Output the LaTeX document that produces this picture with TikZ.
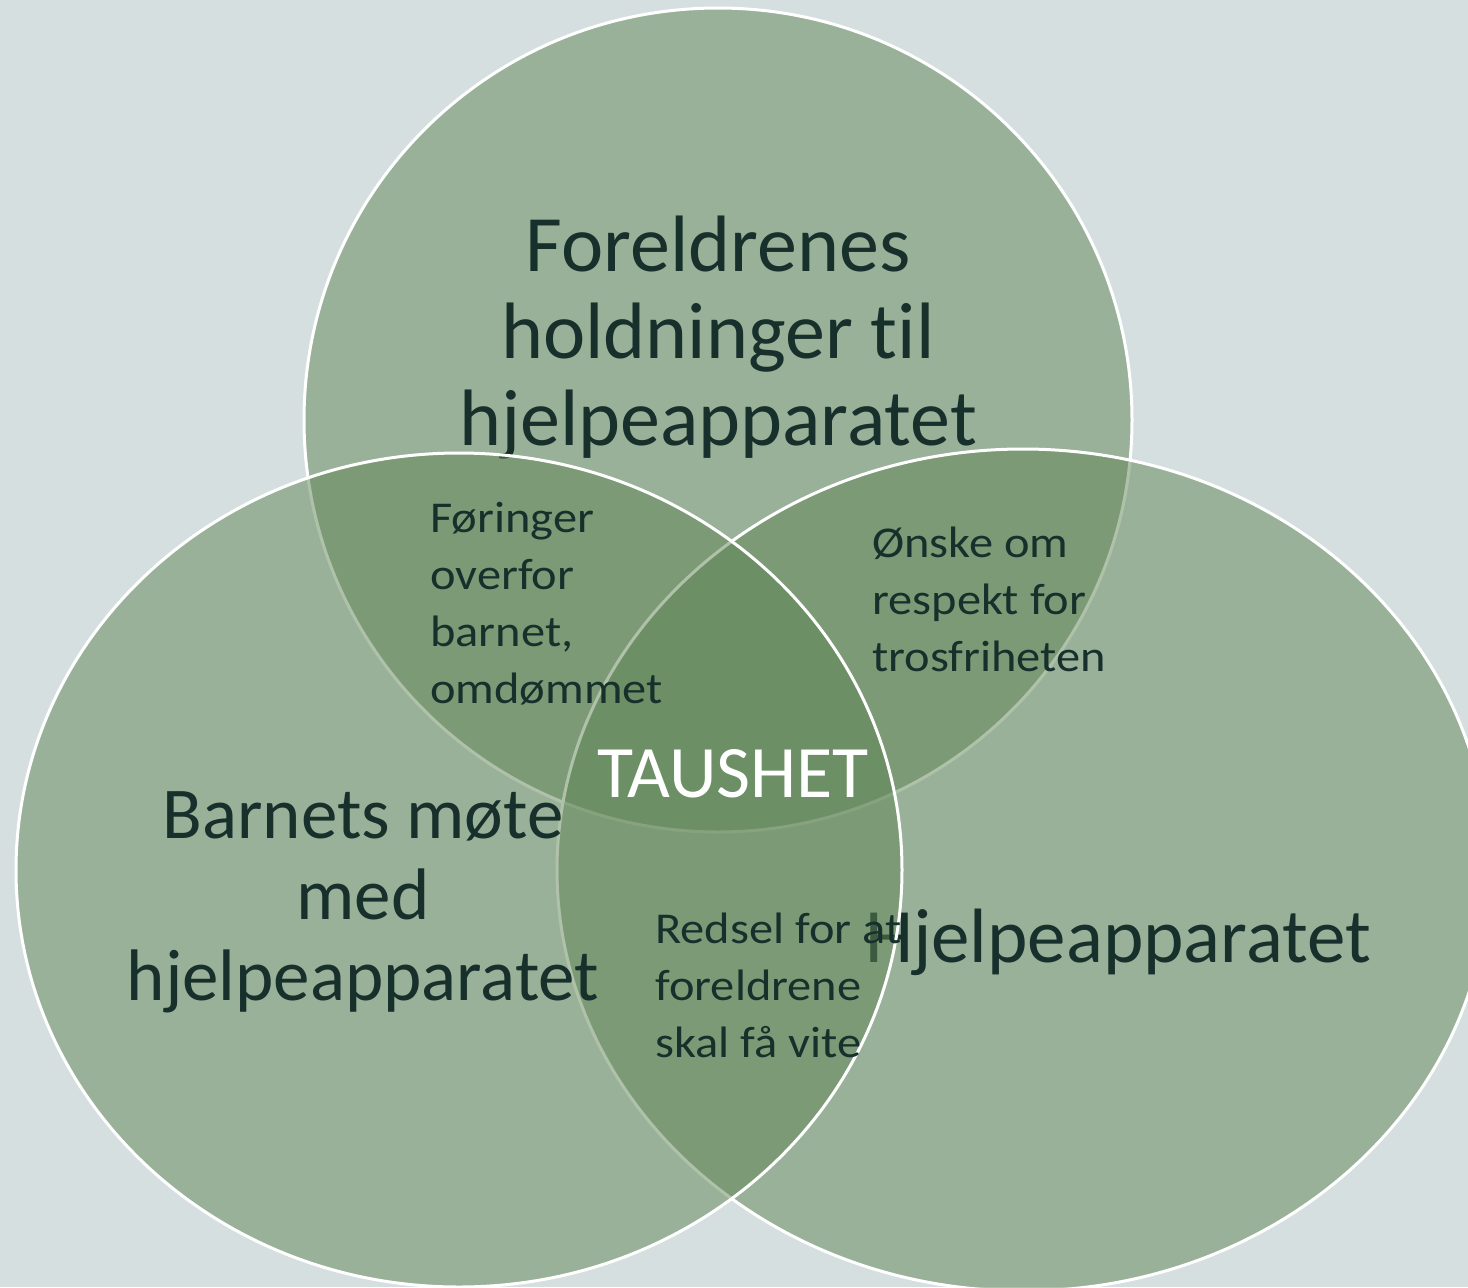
\documentclass[tikz,border=0pt]{standalone}
\usepackage{fontspec}
\setmainfont{Carlito}[Ligatures={NoCommon}]
\newfontfamily\smallfont[FakeStretch=1.1,Ligatures={NoCommon}]{Carlito}
\usetikzlibrary{positioning}

\definecolor{bgcol}{HTML}{D6DFDF}
\definecolor{venncol}{HTML}{608555}
\definecolor{textcol}{HTML}{17302B}

\tikzset{
	venn/.style={fill=venncol, fill opacity=0.5, draw=white, line width=1.5pt},
	bigtext/.style={text=textcol, align=center, inner sep=0pt, anchor=base},
	smalltext/.style={text=textcol, align=left, inner sep=0pt, anchor=base west,
		font=\smallfont\fontsize{22}{28.5}\selectfont},
}

\begin{document}
\begin{tikzpicture}[x=0.5pt, y=-0.5pt]
	%background
	\fill[bgcol] (0,0) rectangle (1468,1287);
	\useasboundingbox (0,0) rectangle (1468,1287);
	
	%top circle (base = last line)
	\draw[venn] (718,420) ellipse [x radius=207pt, y radius=206pt];
	\node[bigtext, font=\fontsize{40}{43.5}\selectfont] (parents) at (718,445)
		{Foreldrenes\\holdninger til\\hjelpeapparatet};
	
	%right circle
	\draw[venn] (1023,870) ellipse [x radius=233pt, y radius=210.5pt];
	\node[bigtext, font=\fontsize{38.5}{42}\selectfont] (services) at (1118,962) {Hjelpeapparatet};
	
	%left circle
	\draw[venn] (459,870) ellipse [x radius=221.5pt, y radius=208.5pt];
	\node[bigtext, font=\fontsize{36.5}{40.5}\selectfont] (child) at (363,1000)
		{Barnets møte\\med\\hjelpeapparatet};
	
	%overlaps
	\node[smalltext] (guidance) at (430,703) {Føringer\\overfor\\barnet,\\omdømmet};
	\node[smalltext] (respect) at (872,671) {Ønske om\\respekt for\\trosfriheten};
	\node[smalltext] (fear) at (655,1057) {Redsel for at\\foreldrene\\skal få vite};
	
	%centre
	\node[bigtext, text=white, font=\fontsize{37}{40}\selectfont] (silence) at (733,797) {TAUSHET};
\end{tikzpicture}
\end{document}
